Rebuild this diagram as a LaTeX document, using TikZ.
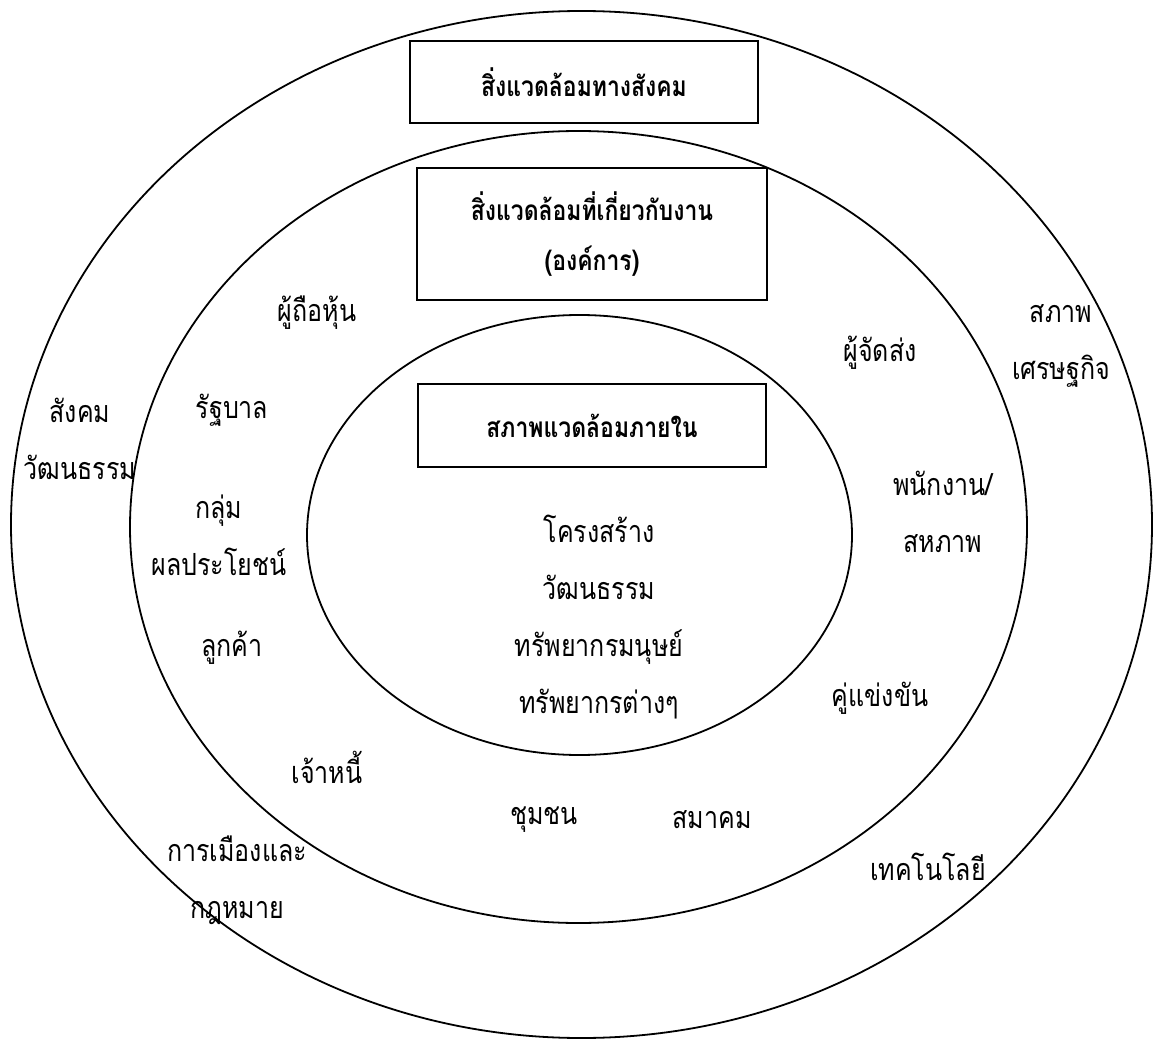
\documentclass[tikz,border=0pt]{standalone}
\usepackage{fontspec}
\setmainfont[Script=Thai,FakeStretch=0.82]{Loma}
\usetikzlibrary{shapes.geometric}
\tikzset{
  ring/.style={draw, ellipse, line width=1.8pt, inner sep=0pt},
  titlebox/.style={draw, line width=1.8pt, inner sep=0pt, align=center,
    font=\bfseries\fontsize{28}{50}\selectfont},
  lbl/.style={inner sep=0pt, align=center, font=\fontsize{30.5}{57}\selectfont},
}
\begin{document}
\begin{tikzpicture}[x=1pt,y=-1pt]
\useasboundingbox (0,0) rectangle (1153,1040);
% rings
\node[ring, minimum width=1141pt, minimum height=1027pt] (outer) at (581.5,524.5) {};
\node[ring, minimum width=897pt, minimum height=792pt] (middle) at (578.5,527) {};
\node[ring, minimum width=545pt, minimum height=440pt] (inner) at (579.5,535) {};
% title boxes
\node[titlebox, minimum width=348pt, minimum height=82pt] (social) at (584,82) {สิ่งแวดล้อมทางสังคม};
\node[titlebox, minimum width=350pt, minimum height=132pt] (task) at (592,234) {สิ่งแวดล้อมที่เกี่ยวกับงาน\\(องค์การ)};
\node[titlebox, minimum width=348pt, minimum height=83pt] (internal) at (592,425.5) {สภาพแวดล้อมภายใน};
% inner contents
\node[lbl] (core) at (599,617.5) {โครงสร้าง\\วัฒนธรรม\\ทรัพยากรมนุษย์\\ทรัพยากรต่างๆ};
% task environment labels
\node[lbl] (share) at (317,313) {ผู้ถือหุ้น};
\node[lbl] (gov) at (232,410) {รัฐบาล};
\node[lbl] (interest) at (219,535) {กลุ่ม\\ผลประโยชน์};
\node[lbl] (cust) at (232,648) {ลูกค้า};
\node[lbl] (cred) at (327,767) {เจ้าหนี้};
\node[lbl] (comm) at (544,820) {ชุมชน};
\node[lbl] (assoc) at (712,820) {สมาคม};
\node[lbl] (comp) at (880,698) {คู่แข่งขัน};
\node[lbl] (staff) at (943,511.5) {พนักงาน/\\สหภาพ};
\node[lbl] (supp) at (880,353) {ผู้จัดส่ง};
% general environment labels
\node[lbl] (socio) at (80,438.5) {สังคม\\วัฒนธรรม};
\node[lbl] (polit) at (237,880) {การเมืองและ\\กฎหมาย};
\node[lbl] (tech) at (928,867) {เทคโนโลยี};
\node[lbl] (econ) at (1061,346) {สภาพ\\เศรษฐกิจ};
\end{tikzpicture}
\end{document}
